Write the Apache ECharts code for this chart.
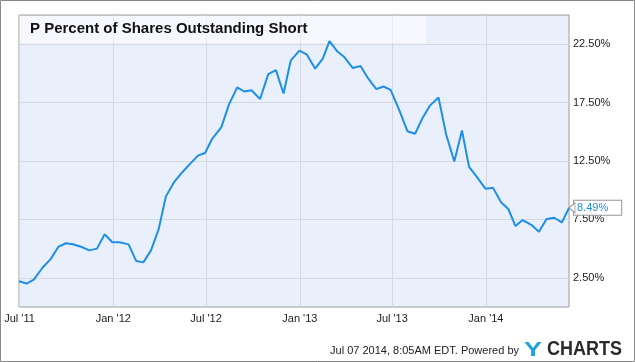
<!DOCTYPE html>
<html>
<head>
<meta charset="utf-8">
<script src="https://cdn.jsdelivr.net/npm/echarts@6/dist/echarts.min.js"></script>
<style>
html,body{margin:0;padding:0;background:#fff;}
#c{width:635px;height:362px;}
</style>
</head>
<body>
<div id="c"></div>
<script>
var titleText = "P Percent of Shares Outstanding Short";
var dates = ["2011-06-30","2011-07-15","2011-07-29","2011-08-15","2011-08-31","2011-09-15","2011-09-30","2011-10-14","2011-10-31","2011-11-15","2011-11-30","2011-12-15","2011-12-30","2012-01-13","2012-01-31","2012-02-15","2012-02-29","2012-03-15","2012-03-30","2012-04-13","2012-04-30","2012-05-15","2012-05-31","2012-06-15","2012-06-29","2012-07-13","2012-07-31","2012-08-15","2012-08-31","2012-09-14","2012-09-28","2012-10-15","2012-10-31","2012-11-15","2012-11-30","2012-12-14","2012-12-31","2013-01-15","2013-01-31","2013-02-15","2013-02-28","2013-03-15","2013-03-28","2013-04-15","2013-04-30","2013-05-15","2013-05-31","2013-06-14","2013-06-28","2013-07-15","2013-07-31","2013-08-15","2013-08-30","2013-09-13","2013-09-30","2013-10-15","2013-10-31","2013-11-15","2013-11-29","2013-12-13","2013-12-31","2014-01-15","2014-01-31","2014-02-14","2014-02-28","2014-03-14","2014-03-31","2014-04-15","2014-04-30","2014-05-15","2014-05-30","2014-06-13"];
var values = [2.21,2.01,2.35,3.36,4.10,5.14,5.46,5.37,5.14,4.85,5.00,6.23,5.54,5.54,5.36,3.93,3.82,4.85,6.66,9.45,10.74,11.52,12.27,12.96,13.19,14.40,15.40,17.35,18.80,18.45,18.56,17.81,19.94,20.28,18.28,21.09,21.95,21.60,20.40,21.26,22.76,21.90,21.45,20.46,20.63,19.57,18.65,18.88,18.59,16.85,15.05,14.83,16.21,17.24,17.93,14.77,12.45,15.11,12.00,11.20,10.13,10.20,8.95,8.39,6.93,7.44,7.04,6.45,7.53,7.64,7.24,8.49];
var yTicks = [2.5, 7.5, 12.5, 17.5, 22.5];
var xTickDates = ["2011-07-01","2012-01-01","2012-07-01","2013-01-01","2013-07-01","2014-01-01"];
var xTickLabels = ["Jul '11","Jan '12","Jul '12","Jan '13","Jul '13","Jan '14"];
var footerText = "Jul 07 2014, 8:05AM EDT. Powered by";

var FONT = "Arial, 'Liberation Sans', sans-serif";
function toTime(d){ return echarts.number.parseDate(d).getTime(); }
var xTickTimes = xTickDates.map(toTime);
var seriesData = dates.map(function(d, i){ return [toTime(d), values[i]]; });
var lastPoint = seriesData[seriesData.length - 1];

var gridLines = [];
yTicks.forEach(function(v){ gridLines.push({ yAxis: v }); });
xTickTimes.forEach(function(t){ gridLines.push({ xAxis: t }); });

var chart = echarts.init(document.getElementById('c'), null, {renderer: 'canvas'});
chart.setOption({
  animation: false,
  backgroundColor: '#ffffff',
  title: {
    text: titleText, left: 30, top: 21, padding: 0, z: 50,
    textStyle: { fontSize: 15, fontWeight: 'bold', color: '#111', fontFamily: FONT }
  },
  grid: {
    left: 19, right: 66, top: 15, bottom: 55,
    show: true, backgroundColor: '#EAF0FB', borderColor: '#9a9a9a', borderWidth: 1
  },
  xAxis: {
    type: 'value',
    min: toTime(dates[0]), max: toTime(dates[dates.length - 1]),
    axisLine: { show: false }, axisTick: { show: false }, splitLine: { show: false },
    axisLabel: {
      customValues: xTickTimes,
      margin: 6, fontSize: 11, color: '#222', fontFamily: FONT, hideOverlap: false,
      formatter: function(val){
        for (var i = 0; i < xTickTimes.length; i++) {
          if (Math.abs(xTickTimes[i] - val) < 43200000) return xTickLabels[i];
        }
        return '';
      }
    }
  },
  yAxis: {
    type: 'value', position: 'right', min: 0, max: 25, interval: 2.5,
    axisLine: { show: false }, axisTick: { show: false }, splitLine: { show: false },
    axisLabel: {
      margin: 4, fontSize: 11, color: '#222', fontFamily: FONT,
      formatter: function(v){
        for (var i = 0; i < yTicks.length; i++) { if (Math.abs(yTicks[i] - v) < 1e-6) return v.toFixed(2) + '%'; }
        return '';
      }
    }
  },
  series: [
    {
      type: 'line', data: seriesData, showSymbol: false, silent: true, z: 1,
      lineStyle: { opacity: 0 },
      markLine: {
        z: 1,
        silent: true, symbol: ['none','none'], animation: false,
        label: { show: false },
        lineStyle: { color: '#D5D8DE', width: 1, type: 'solid' },
        data: gridLines
      }
    },
    {
      type: 'line', data: seriesData, showSymbol: false, z: 6,
      lineStyle: { color: '#1E8FE8', width: 2 },
      itemStyle: { color: '#1E8FE8' },
      endLabel: {
        show: true, distance: 5,
        formatter: function(p){ return p.value[1].toFixed(2) + '%'; },
        color: '#1E8FE8', fontSize: 11, fontFamily: FONT,
        backgroundColor: '#ffffff', borderColor: '#999', borderWidth: 1,
        padding: [2, 13, 1, 3]
      },
      markPoint: {
        z: 7,
        silent: true, animation: false,
        symbol: 'triangle', symbolSize: [10, 6], symbolRotate: 90, symbolOffset: [3, 0],
        itemStyle: { color: '#ffffff', borderColor: '#999', borderWidth: 1 },
        label: { show: false },
        data: [{ coord: lastPoint }]
      }
    }
  ],
  graphic: [
    { type: 'rect', silent: true, z: 4, shape: { x: 20, y: 16, width: 406, height: 27 },
      style: { fill: 'rgba(255,255,255,0.55)' } },
    { type: 'rect', silent: true, z: 0, shape: { x: 0.5, y: 0.5, width: 634, height: 361 },
      style: { fill: 'none', stroke: '#888', lineWidth: 1 } },
    { type: 'text', silent: true, z: 10, x: 519, y: 351,
      style: { text: footerText, fontSize: 11, fontFamily: FONT, fill: '#222', align: 'right', verticalAlign: 'middle' } },
    { type: 'text', silent: true, z: 10, x: 524, y: 350, scaleX: 1.35,
      style: { text: 'Y', fontSize: 20, fontWeight: 'bold', fontFamily: FONT, fill: '#22A2DD', align: 'left', verticalAlign: 'middle' } },
    { type: 'text', silent: true, z: 10, x: 547, y: 350, scaleY: 1.1,
      style: { text: 'CHARTS', fontSize: 18, fontWeight: 'bold', fontFamily: FONT, fill: '#2a2a2a', align: 'left', verticalAlign: 'middle' } }
  ]
});
</script>
</body>
</html>
